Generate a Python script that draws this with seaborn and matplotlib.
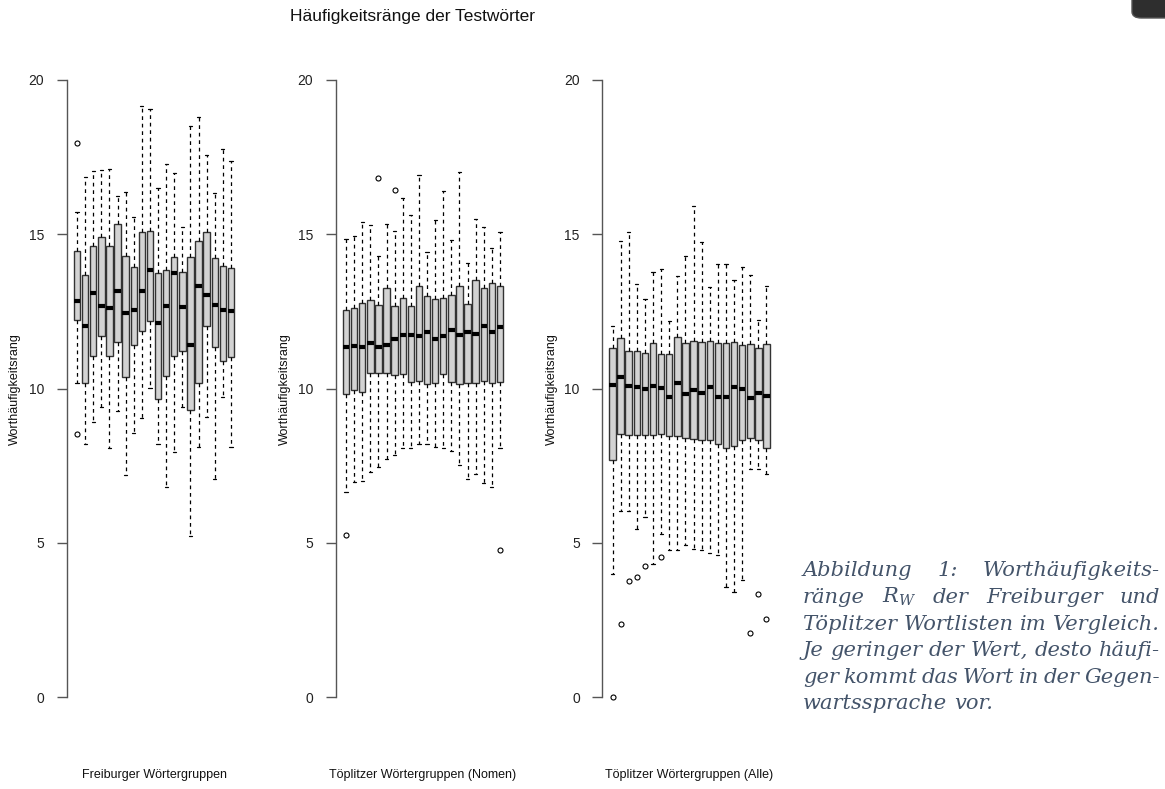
import matplotlib
matplotlib.use("Agg")
import matplotlib.pyplot as plt
import seaborn as sns
from matplotlib.patches import FancyBboxPatch

# Werte (je Box: unteres Whiskerende, Q1, Median, Q3, oberes Whiskerende)
frei_lo = [10.19, 8.19, 8.92, 9.41, 8.07, 9.26, 7.21, 8.57, 9.03, 10.02,
           8.19, 6.81, 7.93, 9.41, 5.23, 8.11, 9.07, 7.06, 9.73, 8.11]
frei_q1 = [12.22, 10.17, 11.05, 11.70, 11.06, 11.50, 10.36, 11.41, 11.85, 12.18,
           9.66, 10.40, 11.04, 11.22, 9.30, 10.19, 12.01, 11.35, 10.89, 11.03]
frei_med = [12.83, 12.01, 13.09, 12.67, 12.62, 13.15, 12.45, 12.56, 13.15, 13.84,
            12.11, 12.67, 13.74, 12.64, 11.40, 13.33, 13.04, 12.71, 12.56, 12.51]
frei_q3 = [14.46, 13.69, 14.63, 14.92, 14.62, 15.32, 14.29, 13.95, 15.08, 15.12,
           13.74, 13.84, 14.27, 13.78, 14.27, 14.77, 15.08, 14.22, 13.97, 13.92]
frei_hi = [15.73, 16.85, 17.05, 17.07, 17.10, 16.25, 16.37, 15.56, 19.15, 19.06,
           16.51, 17.28, 17.00, 15.22, 18.51, 18.79, 17.58, 16.33, 17.76, 17.38]
frei_out = [[17.95, 8.51]] + [[] for _ in range(19)]

nom_lo = [6.65, 6.97, 7.01, 7.30, 7.45, 7.70, 7.83, 8.08, 8.08, 8.21,
          8.21, 8.11, 8.08, 7.96, 7.52, 7.08, 7.24, 6.95, 6.82, 8.08]
nom_q1 = [9.83, 9.95, 9.90, 10.49, 10.51, 10.51, 10.45, 10.46, 10.20, 10.23,
          10.16, 10.19, 10.46, 10.22, 10.16, 10.19, 10.18, 10.24, 10.19, 10.22]
nom_med = [11.35, 11.39, 11.36, 11.46, 11.35, 11.41, 11.62, 11.74, 11.72, 11.70,
           11.83, 11.59, 11.69, 11.89, 11.72, 11.82, 11.76, 12.03, 11.83, 11.99]
nom_q3 = [12.55, 12.60, 12.78, 12.87, 12.72, 13.26, 12.69, 12.94, 12.66, 13.32,
          13.00, 12.90, 12.92, 13.04, 13.32, 12.75, 13.51, 13.27, 13.42, 13.32]
nom_hi = [14.84, 14.95, 15.40, 15.30, 14.30, 15.34, 15.11, 16.19, 15.62, 16.91,
          14.44, 15.46, 16.41, 14.82, 17.03, 14.08, 15.51, 15.25, 14.57, 15.08]
nom_out = [[5.25], [], [], [], [16.81], [], [16.43], [], [], [],
           [], [], [], [], [], [], [], [], [], [4.78]]

alle_lo = [4.00, 6.03, 6.03, 5.44, 5.84, 4.30, 5.30, 4.77, 4.77, 4.93,
           4.81, 4.77, 4.68, 4.61, 3.58, 3.42, 3.79, 7.39, 7.39, 7.24]
alle_q1 = [7.67, 8.53, 8.50, 8.50, 8.48, 8.50, 8.53, 8.46, 8.46, 8.41,
           8.35, 8.32, 8.34, 8.21, 8.08, 8.14, 8.34, 8.38, 8.34, 8.06]
alle_med = [10.12, 10.38, 10.08, 10.05, 9.98, 10.08, 10.03, 9.74, 10.17, 9.83,
            9.96, 9.85, 10.04, 9.71, 9.73, 10.06, 9.97, 9.70, 9.85, 9.75]
alle_q3 = [11.32, 11.65, 11.22, 11.22, 11.14, 11.47, 11.13, 11.13, 11.67, 11.48,
           11.54, 11.50, 11.54, 11.48, 11.47, 11.52, 11.41, 11.45, 11.32, 11.45]
alle_hi = [12.04, 14.79, 15.07, 13.40, 12.91, 13.76, 13.87, 12.20, 13.64, 14.29,
           15.90, 14.75, 13.30, 14.02, 14.05, 13.53, 13.94, 13.69, 12.22, 13.33]
alle_out = [[0.0], [2.38], [3.76], [3.89], [4.26], [], [4.54], [], [], [],
            [], [], [], [], [], [], [], [2.06], [3.33], [2.52]]

y_ticks = [0, 5, 10, 15, 20]
titel = "Häufigkeitsränge der Testwörter"
y_label = "Worthäufigkeitsrang"
x_labels = ["Freiburger Wörtergruppen", "Töplitzer Wörtergruppen (Nomen)",
            "Töplitzer Wörtergruppen (Alle)"]
caption = [
    ["Abbildung", "1:", "Worthäufigkeits-"],
    ["ränge", "$R_W$", "der", "Freiburger", "und"],
    ["Töplitzer", "Wortlisten", "im", "Vergleich."],
    ["Je", "geringer", "der", "Wert,", "desto", "häufi-"],
    ["ger", "kommt", "das", "Wort", "in", "der", "Gegen-"],
    ["wartssprache", "vor."],
]

sns.set_theme(style="white")
plt.rcParams["font.family"] = ["Liberation Sans", "DejaVu Sans"]
plt.rcParams["mathtext.fontset"] = "dejavuserif"

W, H = 1165, 789
fig = plt.figure(figsize=(W / 100, H / 100), dpi=100)
fig.patch.set_facecolor("white")

panels = [
    (frei_lo, frei_q1, frei_med, frei_q3, frei_hi, frei_out),
    (nom_lo, nom_q1, nom_med, nom_q3, nom_hi, nom_out),
    (alle_lo, alle_q1, alle_med, alle_q3, alle_hi, alle_out),
]
ax_left_px = [66.5, 335.5, 602]
ax_w_px = 175
top_px, bot_px = 55.3, 721.7
ylab_x = [15, 285, 552]

for i, (lo, q1, med, q3, hi, out) in enumerate(panels):
    ax = fig.add_axes([ax_left_px[i] / W, 1 - bot_px / H, ax_w_px / W, (bot_px - top_px) / H])
    stats = []
    for k in range(len(med)):
        stats.append(dict(whislo=lo[k], q1=q1[k], med=med[k], q3=q3[k],
                          whishi=hi[k], fliers=out[k]))
    ax.bxp(stats, positions=range(1, len(stats) + 1), widths=0.8,
           patch_artist=True, capwidths=0.4,
           boxprops=dict(facecolor="#d3d3d3", edgecolor="#333333", linewidth=1.0),
           medianprops=dict(color="black", linewidth=3.0, solid_capstyle="butt"),
           whiskerprops=dict(color="black", linewidth=0.9, linestyle=(0, (3, 3))),
           capprops=dict(color="black", linewidth=0.9),
           flierprops=dict(marker="o", markersize=3.6, markerfacecolor="none",
                           markeredgecolor="black", markeredgewidth=0.8))
    ax.set_xlim(-0.3, 21.3)
    ax.set_ylim(-0.8, 20.8)
    ax.set_yticks(y_ticks)
    ax.set_yticklabels([str(t) for t in y_ticks], fontsize=10, color="#222222")
    ax.set_xticks([])
    for s in ["top", "right", "bottom"]:
        ax.spines[s].set_visible(False)
    ax.spines["left"].set_bounds(0, 20)
    ax.spines["left"].set_color("#555555")
    ax.spines["left"].set_linewidth(1.0)
    ax.tick_params(axis="y", left=True, length=7, width=1.0, color="#555555", pad=9)
    ax.set_facecolor("white")
    # Achsentitel
    cx = (ax_left_px[i] + ax_w_px / 2) / W
    fig.text(cx, 1 - 775 / H, x_labels[i], ha="center", va="center", fontsize=9, color="#111111")
    fig.text(ylab_x[i] / W, 1 - 389 / H, y_label, ha="center", va="center",
             rotation=90, fontsize=9, color="#111111")

fig.text(412 / W, 1 - 16 / H, titel, ha="center", va="center", fontsize=12.5, color="#111111")

# Bildunterschrift im Blocksatz
renderer = fig.canvas.get_renderer()
cap_color = "#44546a"
cx0, cx1 = 803, 1160
probe = fig.text(0, 0, " ".join(caption[2]), fontsize=10, family="DejaVu Serif",
                 style="italic")
pw = probe.get_window_extent(renderer).width
probe.remove()
cap_fs = 10 * (cx1 - cx0) / pw
baselines = [576, 603, 630, 656, 683, 709]
for li, words in enumerate(caption):
    texts = [fig.text(0, 1 - baselines[li] / H, w, fontsize=cap_fs, family="DejaVu Serif",
                      style="italic", color=cap_color, va="baseline", ha="left")
             for w in words]
    widths = [t.get_window_extent(renderer).width for t in texts]
    sp = fig.text(0, 0, "a a", fontsize=cap_fs, family="DejaVu Serif", style="italic")
    sp2 = fig.text(0, 0, "aa", fontsize=cap_fs, family="DejaVu Serif", style="italic")
    space = sp.get_window_extent(renderer).width - sp2.get_window_extent(renderer).width
    sp.remove()
    sp2.remove()
    if li == len(caption) - 1:
        gap = space
    else:
        gap = (cx1 - cx0 - sum(widths)) / (len(words) - 1)
    x = cx0
    for t, w in zip(texts, widths):
        t.set_x(x / W)
        x += w + gap

# Bildschirm-Element oben rechts
fig.patches.append(FancyBboxPatch((1132 / W, 1 - 18 / H), 60 / W, 40 / H,
                                  boxstyle="round,pad=0,rounding_size=0.008",
                                  transform=fig.transFigure, facecolor="#2e2e2e",
                                  edgecolor="#555555", linewidth=1.0))

fig.savefig("out.png", dpi=100, facecolor="white")
